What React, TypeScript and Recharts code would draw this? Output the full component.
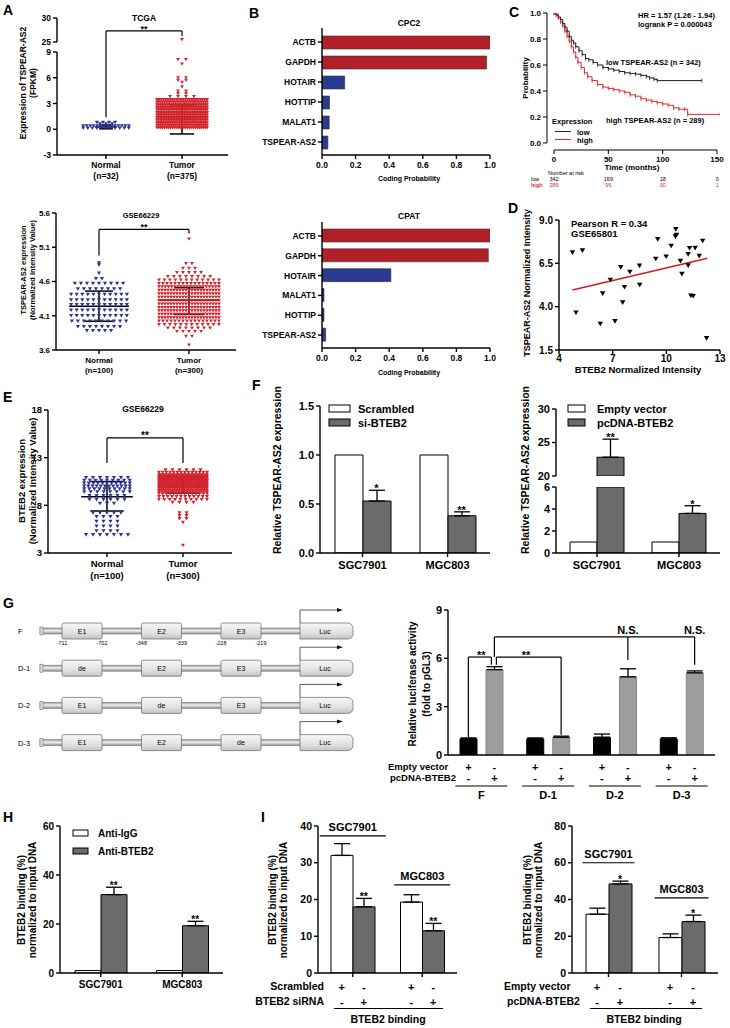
import React from 'react';
import {
  ScatterChart, Scatter, XAxis, YAxis, ReferenceLine, ReferenceDot,
  BarChart, Bar, ErrorBar, Cell, LineChart, Line,
} from 'recharts';

const FONT = '"Liberation Sans", Arial, Helvetica, sans-serif';
const BLUE = '#2a3490';
const RED = '#d1222b';
const BAR_RED = '#b21f29';
const BAR_BLUE = '#2b3a91';
const DARK_GREY = '#6b6b6b';
const LIGHT_GREY = '#9d9d9d';
const KM_RED = '#e0282e';

/* ====================== DATA ====================== */
// Dot plots: beeswarm rows [value, number of samples drawn at that level]
const dotGroups = ['Normal', 'Tumor'];

// A – TCGA
const tcgaCounts = ['(n=32)', '(n=375)'];
const tcgaNormalRows = [[0.78, 4], [0.62, 3], [0.38, 14], [0.12, 11]];
const tcgaTumorRows = [
  [25.5, 1], [8.1, 2], [7.6, 1], [6.0, 2], [5.7, 2], [5.45, 1], [4.95, 1], [4.45, 2], [4.15, 2], [3.8, 4],
  [3.45, 24], [3.15, 28], [2.85, 30], [2.55, 30], [2.25, 32], [1.95, 32], [1.65, 32], [1.35, 32],
  [1.05, 32], [0.75, 30], [0.45, 28], [0.15, 27],
];
const tcgaMean = [0.27, 1.15];
const tcgaSdLow = [0.05, -0.55];
const tcgaSdHigh = [0.5, 2.85];
const tcgaTicksLow = [-3, 0, 3, 6, 9];
const tcgaTicksHigh = [25, 30];

// A – GSE66229 TSPEAR-AS2
const gseCounts = ['(n=100)', '(n=300)'];
const gseNormalRows = [
  [4.87, 1], [4.84, 1], [4.72, 1], [4.64, 2], [4.57, 9], [4.49, 8], [4.41, 11], [4.33, 11], [4.26, 11],
  [4.18, 11], [4.10, 11], [4.02, 10], [3.94, 8], [3.88, 5],
];
const gseTumorRows = [
  [5.22, 1], [4.86, 2], [4.79, 3], [4.73, 5], [4.67, 8], [4.62, 12], [4.57, 16], [4.52, 20], [4.47, 21],
  [4.42, 21], [4.37, 21], [4.32, 21], [4.27, 21], [4.22, 21], [4.17, 21], [4.12, 21], [4.07, 21],
  [4.02, 16], [3.97, 12], [3.92, 8], [3.87, 5], [3.80, 2], [3.67, 1],
];
const gseMean = [4.24, 4.33];
const gseSdLow = [4.02, 4.12];
const gseSdHigh = [4.46, 4.51];
const gseTicks = [3.6, 4.1, 4.6, 5.1, 5.6];

// E – GSE66229 BTEB2
const eNormalRows = [
  [10.9, 7], [10.6, 9], [10.3, 11], [10.0, 12], [9.7, 10], [9.4, 8], [9.0, 6], [8.6, 6], [8.2, 3],
  [7.2, 5], [6.8, 4], [6.3, 4], [5.8, 4], [5.3, 4], [4.9, 7],
];
const eTumorRows = [
  [11.7, 6], [11.45, 14], [11.2, 20], [11.0, 24], [10.8, 26], [10.6, 26], [10.4, 26], [10.2, 26],
  [10.0, 24], [9.8, 22], [9.6, 20], [9.4, 18], [9.2, 14], [8.9, 12], [8.6, 10], [8.3, 4],
  [7.2, 2], [6.9, 2], [6.6, 2], [6.2, 1], [3.8, 1],
];
const eMean = [8.9, 10.05];
const eSdLow = [7.4, 9.3];
const eSdHigh = [10.5, 10.95];
const eTicks = [3, 8, 13, 18];

// B – coding probability
const cpc2Genes = ['ACTB', 'GAPDH', 'HOTAIR', 'HOTTIP', 'MALAT1', 'TSPEAR-AS2'];
const cpc2Prob = [1.0, 0.98, 0.135, 0.045, 0.043, 0.035];
const cpatGenes = ['ACTB', 'GAPDH', 'HOTAIR', 'MALAT1', 'HOTTIP', 'TSPEAR-AS2'];
const cpatProb = [1.0, 0.99, 0.41, 0.012, 0.012, 0.022];
const codingGenes = ['ACTB', 'GAPDH'];
const probTicks = [0, 0.2, 0.4, 0.6, 0.8, 1.0];

// C – Kaplan-Meier
const kmLowTime = [0, 2, 4, 6, 8, 10, 12, 14, 16, 18, 20, 23, 26, 29, 32, 36, 40, 45, 50, 55, 60, 65, 70, 75, 80, 85, 88, 92, 95, 136];
const kmLowSurv = [1, 0.99, 0.97, 0.95, 0.92, 0.89, 0.86, 0.82, 0.79, 0.77, 0.74, 0.71, 0.68, 0.65, 0.64, 0.62, 0.6, 0.58, 0.57, 0.56, 0.55, 0.54, 0.535, 0.53, 0.52, 0.51, 0.5, 0.49, 0.48, 0.48];
const kmHighTime = [0, 2, 4, 6, 8, 10, 12, 14, 16, 18, 20, 22, 25, 28, 31, 35, 40, 45, 50, 55, 60, 65, 70, 75, 80, 85, 90, 95, 100, 105, 110, 115, 120, 123, 153];
const kmHighSurv = [1, 0.98, 0.96, 0.93, 0.9, 0.86, 0.82, 0.78, 0.74, 0.7, 0.66, 0.62, 0.58, 0.54, 0.51, 0.48, 0.45, 0.43, 0.42, 0.41, 0.4, 0.39, 0.37, 0.36, 0.34, 0.33, 0.32, 0.31, 0.3, 0.29, 0.27, 0.26, 0.26, 0.22, 0.22];
const kmTicksX = [0, 50, 100, 150];
const kmTicksY = [0, 0.2, 0.4, 0.6, 0.8, 1.0];
const riskLow = ['342', '169', '18', '0'];
const riskHigh = ['289', '96', '30', '1'];

// D – correlation
const dBteb2 = [4.75, 5.31, 4.95, 6.44, 6.31, 6.87, 7.13, 7.45, 7.66, 7.56, 7.96, 8.5, 8.51, 9.41, 9.52, 9.99, 10.27, 10.53, 10.57, 10.51, 10.79, 10.87, 11.22, 11.22, 11.3, 11.61, 11.37, 11.5, 11.84, 12.03, 12.25];
const dTspear = [7.12, 7.23, 3.65, 4.75, 3.0, 5.54, 3.15, 6.27, 5.12, 4.23, 6.0, 6.35, 5.25, 6.75, 7.88, 6.88, 7.5, 8.46, 8.13, 8.04, 6.63, 5.88, 6.37, 7.02, 7.37, 7.38, 4.63, 4.6, 6.92, 7.79, 2.17];
const dFitX = [4.75, 12.3];
const dFitY = [4.96, 6.79];
const dTicksX = [4, 7, 10, 13];
const dTicksY = [1.5, 4.0, 6.5, 9.0];

// F
const cellLines = ['SGC7901', 'MGC803'];
const fScrambled = [1.0, 1.0];
const fSi = [0.53, 0.38];
const fSiErr = [0.11, 0.04];
const fSiStars = ['*', '**'];
const fEmpty = [1.0, 1.0];
const fPc = [22.8, 3.6];
const fPcErr = [2.7, 0.7];
const fPcStars = ['**', '*'];

// G
const gConstructs = ['F', 'D-1', 'D-2', 'D-3'];
const gEmpty = [1.0, 1.0, 1.1, 1.0];
const gEmptyErr = [0.06, 0.06, 0.2, 0.07];
const gPc = [5.3, 1.1, 4.85, 5.1];
const gPcErr = [0.18, 0.07, 0.5, 0.12];
const gDiagramRows = [
  { label: 'F', elems: ['E1', 'E2', 'E3'] },
  { label: 'D-1', elems: ['de', 'E2', 'E3'] },
  { label: 'D-2', elems: ['E1', 'de', 'E3'] },
  { label: 'D-3', elems: ['E1', 'E2', 'de'] },
];
const gSitePositions = ['-711', '-702', '-348', '-339', '-228', '-219'];
const plusMinus = [['+', '-'], ['-', '+']];

// H
const hIgG = [1.0, 1.0];
const hBteb2 = [32.0, 19.3];
const hBteb2Err = [3.0, 1.8];
const hStars = ['**', '**'];

// I
const iScrambled = [32.0, 19.3];
const iScrambledErr = [3.2, 2.0];
const iSi = [18.0, 11.5];
const iSiErr = [2.3, 2.0];
const iSiStars = ['**', '**'];
const iEmpty = [32.0, 19.3];
const iEmptyErr = [3.3, 2.0];
const iPc = [48.5, 28.0];
const iPcErr = [1.5, 3.5];
const iPcStars = ['*', '*'];

/* ====================== LAYOUT ====================== */
const R = {
  aTopUp: { x0: 57, y0: 18, x1: 228, y1: 42 },
  aTopLo: { x0: 57, y0: 52, x1: 228, y1: 155 },
  aBot: { x0: 56, y0: 213, x1: 236, y1: 350 },
  e: { x0: 48, y0: 410, x1: 232, y1: 553 },
  bCpc2: { x0: 322, y0: 28, x1: 490, y1: 155 },
  bCpat: { x0: 322, y0: 222, x1: 490, y1: 348 },
  c: { x0: 547, y0: 13, x1: 720, y1: 150 },
  d: { x0: 559, y0: 220, x1: 720, y1: 350 },
  fL: { x0: 320, y0: 406, x1: 490, y1: 553 },
  fRUp: { x0: 556, y0: 409, x1: 720, y1: 476 },
  fRLo: { x0: 556, y0: 487, x1: 720, y1: 553 },
  g: { x0: 448, y0: 610, x1: 715, y1: 755 },
  h: { x0: 60, y0: 826, x1: 223, y1: 973 },
  iL: { x0: 318, y0: 826, x1: 457, y1: 973 },
  iR: { x0: 572, y0: 826, x1: 718, y1: 973 },
};

function frame(r, yW, xH, pad = { t: 8, r: 8, b: 8, l: 8 }) {
  const width = pad.l + yW + (r.x1 - r.x0) + pad.r;
  const height = pad.t + (r.y1 - r.y0) + xH + pad.b;
  return {
    style: { position: 'absolute', left: r.x0 - yW - pad.l, top: r.y0 - pad.t, width, height },
    width, height,
    margin: { top: pad.t, right: pad.r, bottom: pad.b, left: pad.l },
  };
}

const axLine = { stroke: '#000', strokeWidth: 1.4 };
const tickFont = (s) => ({ fontSize: s, fontWeight: 700, fill: '#000', fontFamily: FONT });
const fix1 = (v) => Number(v).toFixed(1);

function swarm(rows, center, maxHalf, maxStep) {
  const out = [];
  rows.forEach(([v, n]) => {
    const step = n > 1 ? Math.min(maxStep, (2 * maxHalf) / (n - 1)) : 0;
    for (let i = 0; i < n; i++) out.push({ x: center + (i - (n - 1) / 2) * step, y: v });
  });
  return out;
}

const tri = (color, w) => (p) => {
  const h = w * 0.85;
  return <path d={`M${p.cx - w / 2},${p.cy - h / 2}L${p.cx + w / 2},${p.cy - h / 2}L${p.cx},${p.cy + h / 2}Z`} fill={color} />;
};

function seg(k, x1, y1, x2, y2, w = 1.2, color = '#000') {
  return <ReferenceLine key={k} segment={[{ x: x1, y: y1 }, { x: x2, y: y2 }]} stroke={color} strokeWidth={w} ifOverflow="visible" />;
}
function bseg(k, c1, dx1, v1, c2, dx2, v2) {
  return (
    <ReferenceLine key={k} segment={[{ x: c1, y: v1 }, { x: c2, y: v2 }]} ifOverflow="visible"
      shape={(p) => <line x1={p.x1 + dx1} y1={p.y1} x2={p.x2 + dx2} y2={p.y2} stroke="#000" strokeWidth={1.2} />} />
  );
}
function textAt(k, x, y, text, dx = 0, dy = 2, fs = 10) {
  return (
    <ReferenceDot key={k} x={x} y={y} r={0} ifOverflow="visible"
      shape={(p) => <text x={p.cx + dx} y={p.cy + dy} textAnchor="middle" fontSize={fs} fontWeight={700} fontFamily={FONT} fill="#000">{text}</text>} />
  );
}
function groupLabel(k, cat, v, half, text, fs) {
  return (
    <ReferenceDot key={k} x={cat} y={v} r={0} ifOverflow="visible"
      shape={(p) => (
        <g>
          <line x1={p.cx - half} y1={p.cy} x2={p.cx + half} y2={p.cy} stroke="#000" strokeWidth={1.2} />
          <text x={p.cx} y={p.cy - 5} textAnchor="middle" fontSize={fs} fontWeight={700} fontFamily={FONT} fill="#000">{text}</text>
        </g>
      )} />
  );
}
function meanSd(pre, c, m, lo, hi, mh, ch) {
  return [
    seg(pre + 'm', c - mh, m, c + mh, m, 1.5),
    seg(pre + 'v', c, lo, c, hi, 1.5),
    seg(pre + 'l', c - ch, lo, c + ch, lo, 1.5),
    seg(pre + 'h', c - ch, hi, c + ch, hi, 1.5),
  ];
}

function TwoLine({ x, y, payload, labels, fs }) {
  const i = Math.round(payload.value) - 1;
  const pair = labels[i] || ['', ''];
  return (
    <text x={x} y={y} textAnchor="middle" fontSize={fs} fontWeight={700} fontFamily={FONT} fill="#000">
      <tspan x={x} dy={fs * 0.85}>{pair[0]}</tspan>
      <tspan x={x} dy={fs * 1.3}>{pair[1]}</tspan>
    </text>
  );
}

function DotPlot({ r, pad, xDomain, yDomain, yTicks, xLabels, fs, showX = true, series, children, yFmt }: any) {
  const xH = showX ? 30 : 0;
  const f = frame(r, 34, xH, pad);
  return (
    <div style={f.style}>
      <ScatterChart width={f.width} height={f.height} margin={f.margin}>
        <XAxis type="number" dataKey="x" domain={xDomain} ticks={[1, 2]} allowDataOverflow hide={!showX} height={xH}
          axisLine={axLine} tickLine={axLine} tickSize={4} interval={0}
          tick={(p) => <TwoLine {...p} labels={xLabels} fs={fs} />} />
        <YAxis type="number" dataKey="y" domain={yDomain} ticks={yTicks} allowDataOverflow width={34}
          axisLine={axLine} tickLine={axLine} tickSize={4} interval={0} tick={tickFont(fs)} tickFormatter={yFmt} />
        {series.map((s, i) => (
          <Scatter key={i} data={s.data} shape={tri(s.color, s.size)} isAnimationActive={false} />
        ))}
        {children}
      </ScatterChart>
    </div>
  );
}

function GroupBars({ r, pad, cats, series, domain, ticks, fs, barSize, barGap, yFmt, xTick, xH = 24, tickLineX = true, hideX = false, children }: any) {
  const data = cats.map((c, i) => {
    const o: any = { c };
    series.forEach((s, k) => {
      o['v' + k] = s.values[i];
      o['e' + k] = s.errs && s.errs[i] != null ? [0, s.errs[i]] : undefined;
    });
    return o;
  });
  const f = frame(r, 36, hideX ? 0 : xH, pad);
  const offs = series.length === 2 ? [-(barSize + barGap) / 2, (barSize + barGap) / 2] : [0];
  const stars = [];
  series.forEach((s, k) => {
    if (!s.stars) return;
    cats.forEach((c, i) => {
      if (s.stars[i] && s.values[i] != null) {
        stars.push(textAt(`st${k}${i}`, c, s.values[i] + ((s.errs && s.errs[i]) || 0), s.stars[i], offs[k], 2, fs));
      }
    });
  });
  return (
    <div style={f.style}>
      <BarChart width={f.width} height={f.height} margin={f.margin} data={data} barSize={barSize} barGap={barGap}>
        <XAxis dataKey="c" hide={hideX} height={xH} axisLine={axLine} tickLine={tickLineX ? axLine : false}
          tickSize={4} tickMargin={4} interval={0} tick={xTick || tickFont(fs)} />
        <YAxis type="number" domain={domain} ticks={ticks} allowDataOverflow width={36} axisLine={axLine}
          tickLine={axLine} tickSize={4} interval={0} tick={tickFont(fs)} tickFormatter={yFmt} />
        {series.map((s, k) => (
          <Bar key={k} dataKey={'v' + k} fill={s.fill} stroke={s.stroke} strokeWidth={1} isAnimationActive={false}>
            {s.errs ? <ErrorBar dataKey={'e' + k} width={8} stroke="#000" strokeWidth={1.3} direction="y" /> : null}
          </Bar>
        ))}
        {stars}
        {children}
      </BarChart>
    </div>
  );
}

function signTick(rows, dx, dys, fs, opts?: any) {
  return (p) => {
    const { x, y, payload } = p;
    return (
      <g>
        {rows.map((row, ri) => row.map((s, si) => (
          <text key={`${ri}-${si}`} x={x + (si === 0 ? -dx : dx)} y={y + dys[ri]} textAnchor="middle"
            fontSize={fs} fontWeight={700} fontFamily={FONT} fill="#000">{s}</text>
        )))}
        {opts ? <line x1={x - opts.half} x2={x + opts.half} y1={y + opts.lineDy} y2={y + opts.lineDy} stroke="#000" strokeWidth={1} /> : null}
        {opts ? <text x={x} y={y + opts.labelDy} textAnchor="middle" fontSize={fs} fontWeight={700} fontFamily={FONT} fill="#000">{payload.value}</text> : null}
      </g>
    );
  };
}

/* ====================== PANELS ====================== */
const tcgaNormalPts = swarm(tcgaNormalRows, 1, 0.3, 0.08);
const tcgaTumorPts = swarm(tcgaTumorRows, 2, 0.33, 0.105);
const gseNormalPts = swarm(gseNormalRows, 1, 0.31, 0.067);
const gseTumorPts = swarm(gseTumorRows, 2, 0.333, 0.067);
const eNormalPts = swarm(eNormalRows, 1, 0.3, 0.092);
const eTumorPts = swarm(eTumorRows, 2, 0.316, 0.092);

function PanelA() {
  const xd = [0.3553, 2.605];
  const labels = dotGroups.map((g, i) => [g, tcgaCounts[i]]);
  return (
    <>
      <DotPlot r={R.aTopUp} pad={{ t: 8, r: 8, b: 14, l: 8 }} xDomain={xd} yDomain={[25, 30]} yTicks={tcgaTicksHigh}
        showX={false} fs={8.5} xLabels={labels}
        series={[{ data: tcgaTumorPts.filter((p) => p.y >= 25), color: RED, size: 4 }]}>
        {seg('b1', 1, 27.3, 2, 27.3)}
        {seg('b2', 2, 27.3, 2, 26.2)}
        {seg('b3', 1, 27.3, 1, 22.9)}
        {textAt('st', 1.5, 27.3, '**', 0, 1, 9)}
      </DotPlot>
      <DotPlot r={R.aTopLo} xDomain={xd} yDomain={[-3, 9]} yTicks={tcgaTicksLow} fs={8.5} xLabels={labels}
        series={[
          { data: tcgaNormalPts, color: BLUE, size: 4 },
          { data: tcgaTumorPts.filter((p) => p.y < 25), color: RED, size: 3.8 },
        ]}>
        {seg('l1', 1, 9, 1, 1.4)}
        {meanSd('n', 1, tcgaMean[0], tcgaSdLow[0], tcgaSdHigh[0], 0.145, 0.09)}
        {meanSd('t', 2, tcgaMean[1], tcgaSdLow[1], tcgaSdHigh[1], 0.2, 0.16)}
      </DotPlot>
      <DotPlot r={R.aBot} xDomain={[0.5222, 2.5222]} yDomain={[3.6, 5.6]} yTicks={gseTicks} fs={8}
        xLabels={dotGroups.map((g, i) => [g, gseCounts[i]])} yFmt={fix1}
        series={[{ data: gseNormalPts, color: BLUE, size: 4.2 }, { data: gseTumorPts, color: RED, size: 3.8 }]}>
        {seg('b1', 1, 5.36, 2, 5.36)}
        {seg('b2', 1, 5.36, 1, 4.98)}
        {seg('b3', 2, 5.36, 2, 5.3)}
        {textAt('st', 1.5, 5.36, '**', 0, 1, 9)}
        {meanSd('n', 1, gseMean[0], gseSdLow[0], gseSdHigh[0], 0.333, 0.155)}
        {meanSd('t', 2, gseMean[1], gseSdLow[1], gseSdHigh[1], 0.333, 0.165)}
      </DotPlot>
    </>
  );
}

function PanelE() {
  return (
    <DotPlot r={R.e} xDomain={[0.2237, 2.645]} yDomain={[3, 18]} yTicks={eTicks} fs={9.5}
      xLabels={dotGroups.map((g, i) => [g, gseCounts[i]])}
      series={[{ data: eNormalPts, color: BLUE, size: 4.2 }, { data: eTumorPts, color: RED, size: 4 }]}>
      {seg('b1', 1, 15.07, 2, 15.07)}
      {seg('b2', 1, 15.07, 1, 12.44)}
      {seg('b3', 2, 15.07, 2, 12.44)}
      {textAt('st', 1.5, 15.07, '**', 0, 1, 10)}
      {meanSd('n', 1, eMean[0], eSdLow[0], eSdHigh[0], 0.34, 0.22)}
      {meanSd('t', 2, eMean[1], eSdLow[1], eSdHigh[1], 0.33, 0.22)}
    </DotPlot>
  );
}

function CodingBars({ r, genes, probs }: any) {
  const data = genes.map((g, i) => ({ g, v: probs[i] }));
  const f = frame(r, 80, 22, { t: 8, r: 10, b: 6, l: 4 });
  return (
    <div style={f.style}>
      <BarChart layout="vertical" width={f.width} height={f.height} margin={f.margin} data={data} barSize={13}>
        <XAxis type="number" domain={[0, 1]} ticks={probTicks} tickFormatter={fix1} height={22} allowDataOverflow
          axisLine={axLine} tickLine={axLine} tickSize={4} tickMargin={3} interval={0} tick={tickFont(8.5)} />
        <YAxis type="category" dataKey="g" width={80} padding={{ top: 4, bottom: 3 }} axisLine={axLine}
          tickLine={axLine} tickSize={4} interval={0} tick={tickFont(8.5)} />
        <Bar dataKey="v" stroke="#333" strokeWidth={0.6} isAnimationActive={false}>
          {data.map((d, i) => <Cell key={i} fill={codingGenes.includes(d.g) ? BAR_RED : BAR_BLUE} />)}
        </Bar>
      </BarChart>
    </div>
  );
}

function PanelC() {
  const low = kmLowTime.map((t, i) => ({ t, s: kmLowSurv[i] }));
  const high = kmHighTime.map((t, i) => ({ t, s: kmHighSurv[i] }));
  const xd = [-6.44, 152.76];
  const yd = [-0.054, 1.0];
  const f = frame(R.c, 30, 20, { t: 6, r: 6, b: 4, l: 4 });
  const censor = (color) => (p) => (
    <line key={`c${p.index}`} x1={p.cx} y1={p.cy - 2} x2={p.cx} y2={p.cy + 2} stroke={color} strokeWidth={0.8} />
  );
  return (
    <div style={f.style}>
      <LineChart width={f.width} height={f.height} margin={f.margin}>
        <XAxis type="number" dataKey="t" domain={xd} ticks={kmTicksX} allowDataOverflow axisLine={false}
          tickLine={{ stroke: '#000', strokeWidth: 1 }} tickSize={4} tickMargin={2} interval={0} height={20} tick={tickFont(8)} />
        <YAxis type="number" domain={yd} ticks={kmTicksY} allowDataOverflow axisLine={false} width={30}
          tickLine={{ stroke: '#000', strokeWidth: 1 }} tickSize={4} interval={0} tick={tickFont(8)} tickFormatter={fix1} />
        {seg('ya', xd[0], 0, xd[0], 1, 1)}
        {seg('xa', 0, yd[0], 150, yd[0], 1)}
        <Line data={low} dataKey="s" type="stepAfter" stroke="#222" strokeWidth={1} dot={censor('#222')} isAnimationActive={false} />
        <Line data={high} dataKey="s" type="stepAfter" stroke={KM_RED} strokeWidth={1} dot={censor(KM_RED)} isAnimationActive={false} />
      </LineChart>
    </div>
  );
}

function PanelD() {
  const pts = dBteb2.map((x, i) => ({ x, y: dTspear[i] }));
  const f = frame(R.d, 34, 20, { t: 8, r: 8, b: 4, l: 4 });
  return (
    <div style={f.style}>
      <ScatterChart width={f.width} height={f.height} margin={f.margin}>
        <XAxis type="number" dataKey="x" domain={[4, 13]} ticks={dTicksX} allowDataOverflow axisLine={axLine}
          tickLine={axLine} tickSize={4} tickMargin={1} interval={0} height={20} tick={tickFont(10)} />
        <YAxis type="number" dataKey="y" domain={[1.5, 9]} ticks={dTicksY} allowDataOverflow axisLine={axLine}
          tickLine={axLine} tickSize={4} interval={0} width={34} tick={tickFont(10)} tickFormatter={fix1} />
        {seg('fit', dFitX[0], dFitY[0], dFitX[1], dFitY[1], 1.5, '#d7191c')}
        <Scatter data={pts} shape={tri('#000', 5.5)} isAnimationActive={false} />
      </ScatterChart>
    </div>
  );
}

function PanelF() {
  const brk = 6;
  return (
    <>
      <GroupBars r={R.fL} cats={cellLines} domain={[0, 1.5]} ticks={[0, 0.5, 1.0, 1.5]} yFmt={fix1} fs={11}
        barSize={28} barGap={0}
        series={[
          { values: fScrambled, fill: '#fff', stroke: '#000' },
          { values: fSi, errs: fSiErr, stars: fSiStars, fill: DARK_GREY, stroke: '#000' },
        ]} />
      <GroupBars r={R.fRUp} cats={cellLines} domain={[20, 30]} ticks={[20, 25, 30]} fs={11} hideX
        barSize={27} barGap={0} pad={{ t: 8, r: 8, b: 8, l: 8 }}
        series={[
          { values: fEmpty.map((v) => (v >= 20 ? v : null)), fill: '#fff', stroke: '#000' },
          {
            values: fPc.map((v) => (v >= 20 ? v : null)),
            errs: fPc.map((v, i) => (v >= 20 ? fPcErr[i] : null)),
            stars: fPc.map((v, i) => (v >= 20 ? fPcStars[i] : null)),
            fill: DARK_GREY, stroke: '#000',
          },
        ]} />
      <GroupBars r={R.fRLo} cats={cellLines} domain={[0, brk]} ticks={[0, 2, 4, 6]} fs={11}
        barSize={27} barGap={0} pad={{ t: 8, r: 8, b: 8, l: 8 }}
        series={[
          { values: fEmpty, fill: '#fff', stroke: '#000' },
          {
            values: fPc.map((v) => Math.min(v, brk)),
            errs: fPc.map((v, i) => (v < brk ? fPcErr[i] : null)),
            stars: fPc.map((v, i) => (v < brk ? fPcStars[i] : null)),
            fill: DARK_GREY, stroke: '#000',
          },
        ]} />
    </>
  );
}

function PanelG() {
  const o = 13;
  return (
    <GroupBars r={R.g} cats={gConstructs} domain={[0, 9]} ticks={[0, 3, 6, 9]} fs={11} barSize={17} barGap={9}
      xH={46} tickLineX={false}
      xTick={signTick(plusMinus, o, [8, 19], 11, { half: 26, lineDy: 23, labelDy: 36 })}
      series={[
        { values: gEmpty, errs: gEmptyErr, fill: '#000', stroke: '#000' },
        { values: gPc, errs: gPcErr, fill: LIGHT_GREY, stroke: '#8a8a8a' },
      ]}>
      {bseg('a1', 'F', -o, 6.08, 'F', o - 3, 6.08)}
      {bseg('a2', 'F', -o, 6.08, 'F', -o, 1.12)}
      {bseg('a3', 'F', o - 3, 6.08, 'F', o - 3, 5.6)}
      {bseg('b1', 'F', o + 2, 6.08, 'D-1', o, 6.08)}
      {bseg('b2', 'F', o + 2, 6.08, 'F', o + 2, 5.6)}
      {bseg('b3', 'D-1', o, 6.08, 'D-1', o, 1.25)}
      {bseg('c1', 'F', o, 7.33, 'D-3', o, 7.33)}
      {bseg('c2', 'F', o, 7.33, 'F', o, 6.08)}
      {bseg('c3', 'D-2', o, 7.33, 'D-2', o, 5.9)}
      {bseg('c4', 'D-3', o, 7.33, 'D-3', o, 5.6)}
      {textAt('s1', 'F', 6.08, '**', 0, 2, 11)}
      {textAt('s2', 'D-1', 6.08, '**', -22, 2, 11)}
      {textAt('s3', 'D-2', 7.33, 'N.S.', o, -3, 11)}
      {textAt('s4', 'D-3', 7.33, 'N.S.', o, -3, 11)}
    </GroupBars>
  );
}

function PanelH() {
  return (
    <GroupBars r={R.h} cats={cellLines} domain={[0, 60]} ticks={[0, 20, 40, 60]} fs={10} barSize={26} barGap={0}
      series={[
        { values: hIgG, fill: '#fff', stroke: '#000' },
        { values: hBteb2, errs: hBteb2Err, stars: hStars, fill: DARK_GREY, stroke: '#000' },
      ]} />
  );
}

function PanelI() {
  return (
    <>
      <GroupBars r={R.iL} cats={cellLines} domain={[0, 40]} ticks={[0, 10, 20, 30, 40]} fs={10.5} barSize={22} barGap={0}
        xH={40} xTick={signTick(plusMinus, 11, [10, 25], 11)}
        series={[
          { values: iScrambled, errs: iScrambledErr, fill: '#fff', stroke: '#000' },
          { values: iSi, errs: iSiErr, stars: iSiStars, fill: DARK_GREY, stroke: '#000' },
        ]}>
        {groupLabel('g1', 'SGC7901', 37.3, 33, 'SGC7901', 11)}
        {groupLabel('g2', 'MGC803', 24.0, 28, 'MGC803', 11)}
      </GroupBars>
      <GroupBars r={R.iR} cats={cellLines} domain={[0, 80]} ticks={[0, 20, 40, 60, 80]} fs={10.5} barSize={23} barGap={0}
        xH={40} xTick={signTick(plusMinus, 11.5, [10, 25], 11)}
        series={[
          { values: iEmpty, errs: iEmptyErr, fill: '#fff', stroke: '#000' },
          { values: iPc, errs: iPcErr, stars: iPcStars, fill: DARK_GREY, stroke: '#000' },
        ]}>
        {groupLabel('g1', 'SGC7901', 60, 26, 'SGC7901', 11)}
        {groupLabel('g2', 'MGC803', 40.9, 27, 'MGC803', 11)}
      </GroupBars>
    </>
  );
}

/* ====================== OVERLAY TEXT / SCHEMATIC ====================== */
const T = ({ x, y, s = 9, a = 'start', w = 700, fill = '#000', children }: any) => (
  <text x={x} y={y} fontSize={s} textAnchor={a} fontWeight={w} fill={fill}>{children}</text>
);
const VT = ({ x, y, s = 9, children }: any) => (
  <text x={x} y={y} transform={`rotate(-90 ${x} ${y})`} textAnchor="middle" dominantBaseline="central" fontSize={s} fontWeight={700} fill="#000">{children}</text>
);

function Diagram() {
  const y0 = 631, step = 37.2;
  const boxX = [62, 141.5, 221];
  return (
    <g>
      <defs>
        <linearGradient id="tube" x1="0" y1="0" x2="0" y2="1">
          <stop offset="0" stopColor="#9a9a9a" />
          <stop offset="0.45" stopColor="#f2f2f2" />
          <stop offset="1" stopColor="#8a8a8a" />
        </linearGradient>
        <linearGradient id="boxg" x1="0" y1="0" x2="0" y2="1">
          <stop offset="0" stopColor="#f7f7f7" />
          <stop offset="0.6" stopColor="#e2e2e2" />
          <stop offset="1" stopColor="#c4c4c4" />
        </linearGradient>
      </defs>
      {gDiagramRows.map((row, i) => {
        const y = y0 + i * step;
        return (
          <g key={row.label}>
            <T x={18} y={y + 3} s={7.5} w={400}>{row.label}</T>
            <rect x={40} y={y - 3} width={262} height={6} fill="url(#tube)" stroke="#777" strokeWidth={0.6} />
            <rect x={40} y={y - 4} width={3} height={8} fill="#ddd" stroke="#777" strokeWidth={0.6} />
            {row.elems.map((e, j) => (
              <g key={j}>
                <rect x={boxX[j]} y={y - 8} width={40} height={16} rx={1.5} fill="url(#boxg)" stroke="#666" strokeWidth={0.7} />
                <T x={boxX[j] + 20} y={y + 2.5} s={7} a="middle" w={400}>{e}</T>
              </g>
            ))}
            <path d={`M300,${y - 8} H347 Q353,${y - 8} 353,${y - 2} V${y + 2} Q353,${y + 8} 347,${y + 8} H300 Z`} fill="url(#boxg)" stroke="#666" strokeWidth={0.7} />
            <T x={325} y={y + 2.5} s={7} a="middle" w={400}>Luc</T>
            <path d={`M300,${y - 8} V${y - 21} H337`} fill="none" stroke="#333" strokeWidth={0.8} />
            <path d={`M337,${y - 23} L343,${y - 21} L337,${y - 19} Z`} fill="#111" />
            {i === 0 ? gSitePositions.map((p, k) => (
              <T key={p} x={boxX[Math.floor(k / 2)] + (k % 2) * 40} y={y + 14} s={5.5} a="middle" w={400}>{p}</T>
            )) : null}
          </g>
        );
      })}
    </g>
  );
}

function Overlay() {
  return (
    <svg width={730} height={1028} style={{ position: 'absolute', left: 0, top: 0, pointerEvents: 'none' }} fontFamily={FONT}>
      {/* panel letters */}
      <T x={3} y={15} s={14}>A</T>
      <T x={249} y={18} s={14}>B</T>
      <T x={509} y={17} s={14}>C</T>
      <T x={508} y={213} s={14}>D</T>
      <T x={3} y={402} s={14}>E</T>
      <T x={252} y={390} s={14}>F</T>
      <T x={3} y={608} s={14}>G</T>
      <T x={3} y={822} s={14}>H</T>
      <T x={261} y={822} s={14}>I</T>

      {/* A */}
      <T x={144} y={21} s={8.5} a="middle">TCGA</T>
      <VT x={23} y={83} s={8.5}>Expression of TSPEAR-AS2</VT>
      <VT x={32.5} y={83} s={8.5}>(FPKM)</VT>
      <T x={141} y={218} s={7.5} a="middle">GSE66229</T>
      <VT x={23.5} y={270} s={7.5}>TSPEAR-AS2 expression</VT>
      <VT x={32} y={270} s={7.5}>(Normalized Intensity Value)</VT>

      {/* E */}
      <T x={143} y={412} s={8.5} a="middle">GSE66229</T>
      <VT x={21.5} y={481} s={9.5}>BTEB2 expression</VT>
      <VT x={32.5} y={481} s={9.5}>(Normalized Intensity Value)</VT>

      {/* B */}
      <T x={409} y={26} s={8.5} a="middle">CPC2</T>
      <T x={409} y={181} s={7} a="middle">Coding Probability</T>
      <T x={409} y={219} s={8.5} a="middle">CPAT</T>
      <T x={409} y={375} s={7} a="middle">Coding Probability</T>

      {/* C */}
      <T x={638} y={18} s={7.5}>HR = 1.57 (1.26 - 1.94)</T>
      <T x={638} y={27} s={7.5}>logrank P = 0.000043</T>
      <T x={606} y={65} s={7.5}>low TSPEAR-AS2 (n = 342)</T>
      <T x={606} y={123} s={7.5}>high TSPEAR-AS2 (n = 289)</T>
      <T x={552} y={124} s={7.5}>Expression</T>
      <line x1={555} y1={131.5} x2={571} y2={131.5} stroke="#222" strokeWidth={1} />
      <line x1={555} y1={139.5} x2={571} y2={139.5} stroke={KM_RED} strokeWidth={1} />
      <T x={577} y={135} s={7.5}>low</T>
      <T x={577} y={143} s={7.5}>high</T>
      <T x={632} y={170} s={8} a="middle">Time (months)</T>
      <VT x={525} y={78} s={8}>Probability</VT>
      <T x={548} y={175} s={5.5} w={400}>Number at risk</T>
      <T x={531} y={180.5} s={5.5} w={400}>low</T>
      <T x={531} y={186.5} s={5.5} w={700} fill={KM_RED}>high</T>
      {riskLow.map((v, i) => <T key={'l' + i} x={554 + i * 54.4} y={180.5} s={5.5} a="middle" w={400}>{v}</T>)}
      {riskHigh.map((v, i) => <T key={'h' + i} x={554 + i * 54.4} y={186.5} s={5.5} a="middle" w={400} fill={KM_RED}>{v}</T>)}

      {/* D */}
      <T x={571} y={227} s={9.5}>Pearson R = 0.34</T>
      <T x={571} y={237} s={9.5}>GSE65801</T>
      <VT x={527} y={283} s={9}>TSPEAR-AS2 Normalized Intensity</VT>
      <T x={638} y={373} s={9.5} a="middle">BTEB2 Normalized Intensity</T>

      {/* F */}
      <VT x={277} y={470} s={10.5}>Relative TSPEAR-AS2 expression</VT>
      <rect x={329} y={405} width={21} height={7} fill="#fff" stroke="#000" strokeWidth={1} />
      <T x={358} y={412.5} s={11}>Scrambled</T>
      <rect x={329} y={419} width={21} height={7} fill={DARK_GREY} stroke="#000" strokeWidth={1} />
      <T x={358} y={426.5} s={11}>si-BTEB2</T>
      <VT x={525} y={470} s={10.5}>Relative TSPEAR-AS2 expression</VT>
      <rect x={568} y={405} width={17} height={7} fill="#fff" stroke="#000" strokeWidth={1} />
      <T x={597} y={412.5} s={11}>Empty vector</T>
      <rect x={568} y={419} width={17} height={7} fill={DARK_GREY} stroke="#000" strokeWidth={1} />
      <T x={597} y={426.5} s={11}>pcDNA-BTEB2</T>

      {/* G */}
      <Diagram />
      <VT x={412} y={684} s={10}>Relative luciferase activity</VT>
      <VT x={426} y={684} s={10}>(fold to pGL3)</VT>
      <T x={388} y={769.5} s={9.5}>Empty vector</T>
      <T x={390} y={780.5} s={9.5}>pcDNA-BTEB2</T>

      {/* H */}
      <rect x={73} y={830} width={15} height={6} fill="#fff" stroke="#000" strokeWidth={1} />
      <T x={98} y={837} s={10}>Anti-IgG</T>
      <rect x={73} y={848} width={15} height={6} fill={DARK_GREY} stroke="#000" strokeWidth={1} />
      <T x={98} y={855} s={10}>Anti-BTEB2</T>
      <VT x={21} y={900} s={10}>BTEB2 binding (%)</VT>
      <VT x={32} y={900} s={10}>normalized to input DNA</VT>

      {/* I */}
      <VT x={272} y={900} s={10}>BTEB2 binding (%)</VT>
      <VT x={283} y={900} s={10}>normalized to input DNA</VT>
      <T x={324} y={990} s={10.5} a="end">Scrambled</T>
      <T x={324} y={1005} s={10.5} a="end">BTEB2 siRNA</T>
      <line x1={334} y1={1008.5} x2={443} y2={1008.5} stroke="#000" strokeWidth={1} />
      <T x={388} y={1023} s={10.5} a="middle">BTEB2 binding</T>
      <VT x={527} y={900} s={10}>BTEB2 binding (%)</VT>
      <VT x={538} y={900} s={10}>normalized to input DNA</VT>
      <T x={504} y={990} s={10.5}>Empty vector</T>
      <T x={507} y={1005} s={10.5}>pcDNA-BTEB2</T>
      <line x1={590} y1={1008.5} x2={702} y2={1008.5} stroke="#000" strokeWidth={1} />
      <T x={644} y={1023} s={10.5} a="middle">BTEB2 binding</T>
    </svg>
  );
}

export default function App() {
  return (
    <div style={{ position: 'absolute', left: 0, top: 0, width: 730, height: 1028, background: '#fff', fontFamily: FONT, overflow: 'hidden' }}>
      <PanelA />
      <CodingBars r={R.bCpc2} genes={cpc2Genes} probs={cpc2Prob} />
      <CodingBars r={R.bCpat} genes={cpatGenes} probs={cpatProb} />
      <PanelC />
      <PanelD />
      <PanelE />
      <PanelF />
      <PanelG />
      <PanelH />
      <PanelI />
      <Overlay />
    </div>
  );
}
